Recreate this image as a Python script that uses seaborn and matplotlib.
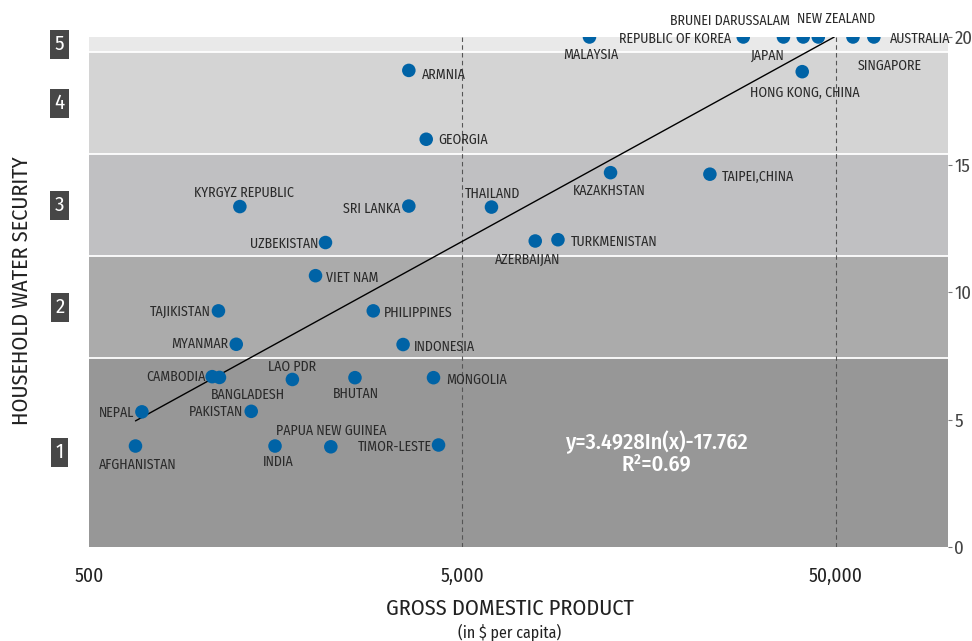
import numpy as np
import pandas as pd
import seaborn as sns
import matplotlib
matplotlib.use("Agg")
import matplotlib.pyplot as plt

# veriler: ulke, kisi basi GSYIH ($), hane su guvenligi skoru
ulkeler = ["AFGHANISTAN", "NEPAL", "CAMBODIA", "BANGLADESH", "TAJIKISTAN", "MYANMAR",
           "PAKISTAN", "LAO PDR", "INDIA", "PAPUA NEW GUINEA", "BHUTAN", "VIET NAM",
           "PHILIPPINES", "INDONESIA", "MONGOLIA", "TIMOR-LESTE", "UZBEKISTAN", "ARMNIA",
           "GEORGIA", "KYRGYZ REPUBLIC", "SRI LANKA", "THAILAND", "MALAYSIA",
           "REPUBLIC OF KOREA", "JAPAN", "BRUNEI DARUSSALAM", "NEW ZEALAND", "SINGAPORE",
           "AUSTRALIA", "HONG KONG, CHINA", "KAZAKHSTAN", "TAIPEI,CHINA", "AZERBAIJAN",
           "TURKMENISTAN"]
gsyih = [666, 693, 1069, 1118, 1111, 1240, 1360, 1753, 1575, 2222, 2579, 2022, 2887,
         3470, 4186, 4318, 2150, 3595, 4002, 1268, 3595, 5985, 10955, 28285, 36240,
         40940, 44930, 55650, 63300, 40690, 12475, 23025, 7840, 9020]
skor = [3.96, 5.3, 6.68, 6.65, 9.26, 7.95, 5.32, 6.57, 3.96, 3.93, 6.64, 10.64, 9.26,
        7.94, 6.64, 4.0, 11.94, 18.69, 15.99, 13.35, 13.37, 13.33, 20, 20, 20, 20, 20,
        20, 20, 18.64, 14.68, 14.62, 12.0, 12.05]

# etiket yerlesimi (nokta merkezine gore piksel kaydirma, yatay hizalama)
etiket_yeri = {
    "AFGHANISTAN": (2, -19, "center"), "NEPAL": (-8, -1, "right"),
    "CAMBODIA": (-7, 0, "right"), "BANGLADESH": (28, -17, "center"),
    "TAJIKISTAN": (-8, -1, "right"), "MYANMAR": (-8, 0, "right"),
    "PAKISTAN": (-8, -1, "right"), "LAO PDR": (0, 13, "center"),
    "INDIA": (3, -16, "center"), "PAPUA NEW GUINEA": (0, 16, "center"),
    "BHUTAN": (1, -16, "center"), "VIET NAM": (10, -2, "left"),
    "PHILIPPINES": (11, -2, "left"), "INDONESIA": (11, -2, "left"),
    "MONGOLIA": (13, -2, "left"), "TIMOR-LESTE": (-7, -2, "right"),
    "UZBEKISTAN": (-7, -1, "right"), "ARMNIA": (13, -4, "left"),
    "GEORGIA": (12, -1, "left"), "KYRGYZ REPUBLIC": (4, 14, "center"),
    "SRI LANKA": (-8, -3, "right"), "THAILAND": (1, 13, "center"),
    "MALAYSIA": (1, -18, "center"), "REPUBLIC OF KOREA": (-12, -2, "right"),
    "JAPAN": (-16, -19, "center"), "BRUNEI DARUSSALAM": (-13, 16, "right"),
    "NEW ZEALAND": (18, 18, "center"), "SINGAPORE": (37, -29, "center"),
    "AUSTRALIA": (16, -2, "left"), "HONG KONG, CHINA": (3, -21, "center"),
    "KAZAKHSTAN": (-1, -18, "center"), "TAIPEI,CHINA": (12, -3, "left"),
    "AZERBAIJAN": (-8, -19, "center"), "TURKMENISTAN": (13, -2, "left"),
}

# seviye bantlari
bant_sinir = [0, 7.4, 11.4, 15.4, 19.4, 20]
bant_renk = ["#979797", "#ababab", "#c0c0c2", "#d4d4d4", "#e9e9e9"]
bant_ad = ["1", "2", "3", "4", "5"]

# regresyon: y = 3.4928 ln(x) - 17.762
a, b = 3.4928, -17.762

df = pd.DataFrame({"ulke": ulkeler, "gsyih": gsyih, "skor": skor})

sns.set_style("white")
plt.rcParams["font.family"] = ["Fira Sans Condensed", "Roboto Condensed", "PT Sans Narrow",
                               "Archivo Narrow", "Open Sans", "DejaVu Sans"]

fig = plt.figure(figsize=(9.72, 6.41), dpi=100)
ax = fig.add_axes([89 / 972, 1 - 547 / 641, 859 / 972, 510 / 641])

for i in range(5):
    ax.axhspan(bant_sinir[i], bant_sinir[i + 1], color=bant_renk[i], lw=0, zorder=0)
    if i > 0:
        ax.axhline(bant_sinir[i], color="white", lw=1.3, zorder=0.5)
    orta = (bant_sinir[i] + bant_sinir[i + 1]) / 2
    ax.text(-0.034, orta, bant_ad[i], transform=ax.get_yaxis_transform(),
            ha="center", va="center", color="white", fontsize=15,
            bbox=dict(boxstyle="square,pad=0.22", fc="#474747", ec="none"), clip_on=False)

for v in [5000, 50000]:
    ax.axvline(v, color="#555555", lw=0.8, ls=(0, (4, 3)), zorder=1)

# trend cizgisi
xs = np.linspace(min(gsyih), np.exp((20 - b) / a), 200)
ax.plot(xs, a * np.log(xs) + b, color="black", lw=1, zorder=2)

sns.scatterplot(data=df, x="gsyih", y="skor", ax=ax, color="#0063a6", s=95,
                edgecolor="none", zorder=3, legend=False)

for u, x, y in zip(ulkeler, gsyih, skor):
    dx, dy, ha = etiket_yeri[u]
    ax.annotate(u, (x, y), xytext=(dx, dy), textcoords="offset pixels", ha=ha,
                va="center", fontsize=10, color="#2a2a2a", zorder=4)

ax.text(0.661, 0.206, "y=3.4928In(x)-17.762", transform=ax.transAxes, ha="center",
        va="center", color="white", fontsize=16, fontweight="medium")
ax.text(0.661, 0.162, "R²=0.69", transform=ax.transAxes, ha="center",
        va="center", color="white", fontsize=16, fontweight="medium")

ax.set_xscale("log")
ax.set_xlim(500, 100000)
ax.set_ylim(0, 20)
ax.set_xticks([500, 5000, 50000])
ax.set_xticklabels(["500", "5,000", "50,000"])
ax.minorticks_off()
ax.tick_params(axis="x", length=0, pad=14, labelsize=14, labelcolor="#222222")
ax.yaxis.tick_right()
ax.set_yticks([0, 5, 10, 15, 20])
ax.tick_params(axis="y", direction="out", length=3, width=0.8, color="#777777",
               pad=1.5, labelsize=13.5, labelcolor="#444444")
for s in ax.spines.values():
    s.set_visible(False)
ax.set_xlabel("")
ax.set_ylabel("")

fig.text(510 / 972, 1 - 609 / 641, "GROSS DOMESTIC PRODUCT", ha="center", va="center",
         fontsize=16, color="#222222")
fig.text(510 / 972, 1 - 632 / 641, "(in $ per capita)", ha="center", va="center",
         fontsize=11.5, color="#222222")
fig.text(22 / 972, 1 - 291 / 641, "HOUSEHOLD WATER SECURITY", ha="center", va="center",
         rotation=90, fontsize=16, color="#222222")

fig.savefig("out.png", dpi=100)
